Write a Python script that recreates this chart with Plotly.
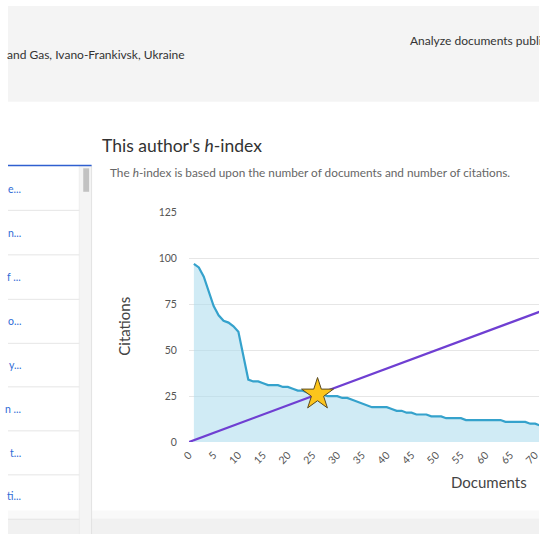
import plotly.graph_objects as go

# ---- data ----
documents = list(range(1, 75))
citations = [97, 95, 90, 82, 74, 69, 66, 65, 63, 60,
             47, 34, 33, 33, 32, 31, 31, 31, 30, 30,
             29, 28, 28, 27, 26, 26, 26, 25, 25, 25,
             24, 24, 23, 22, 21, 20, 19, 19, 19, 19,
             18, 17, 17, 16, 16, 15, 15, 15, 14, 14,
             14, 13, 13, 13, 13, 12, 12, 12, 12, 12,
             12, 12, 12, 11, 11, 11, 11, 11, 10, 10,
             9, 9, 8, 8]
h_line_x = [0, 80]
h_line_y = [0, 80]
h_index = 26
y_ticks = [0, 25, 50, 75, 100, 125]
x_ticks = list(range(0, 80, 5))
list_items = ["e...", "n...", "f ...", "o...", "y...", "n ...", "t...", "ti..."]

W = H = 540
def px(x):
    return x / W
def py(y):
    return 1 - y / H

fig = go.Figure()

fig.add_trace(go.Scatter(
    x=documents, y=citations, mode="lines", fill="tozeroy",
    line=dict(color="#35a2cc", width=2.2),
    fillcolor="rgba(170,218,237,0.55)", hoverinfo="skip", showlegend=False))

fig.add_trace(go.Scatter(
    x=h_line_x, y=h_line_y, mode="lines",
    line=dict(color="#6f3fd2", width=2.2), hoverinfo="skip", showlegend=False))

fig.add_trace(go.Scatter(
    x=[h_index], y=[h_index], mode="markers",
    marker=dict(symbol="star", size=24, color="#fcc51c",
                line=dict(color="#5a4a20", width=1)),
    hoverinfo="skip", showlegend=False))

shapes = []
# header band
shapes.append(dict(type="rect", xref="paper", yref="paper", x0=0, x1=1,
                   y0=py(98), y1=1, fillcolor="#f4f4f4", line_width=0, layer="below"))
# bottom band
shapes.append(dict(type="rect", xref="paper", yref="paper", x0=0, x1=1,
                   y0=0, y1=py(524), fillcolor="#f1f1f1", line_width=0, layer="below"))
shapes.append(dict(type="rect", xref="paper", yref="paper", x0=0, x1=1,
                   y0=py(524), y1=py(516), fillcolor="#f9f9f9", line_width=0, layer="below"))
# left list panel: scrollbar track
shapes.append(dict(type="rect", xref="paper", yref="paper", x0=px(73), x1=px(85),
                   y0=0, y1=py(163), fillcolor="#f4f4f4", line_width=0, layer="below"))
shapes.append(dict(type="rect", xref="paper", yref="paper", x0=px(76.5), x1=px(82.5),
                   y0=py(190), y1=py(166), fillcolor="#c2c2c2", line_width=0, layer="below"))
shapes.append(dict(type="line", xref="paper", yref="paper", x0=px(85), x1=px(85),
                   y0=0, y1=py(163), line=dict(color="#e2e2e2", width=1)))
shapes.append(dict(type="line", xref="paper", yref="paper", x0=px(72.5), x1=px(72.5),
                   y0=0, y1=py(163), line=dict(color="#ececec", width=1)))
shapes.append(dict(type="line", xref="paper", yref="paper", x0=0, x1=px(85),
                   y0=py(163), y1=py(163), line=dict(color="#2f5fd0", width=1.5)))
for yy in [209, 254.5, 300, 345, 389.5, 434.5, 479.5, 525]:
    shapes.append(dict(type="line", xref="paper", yref="paper", x0=0, x1=px(72.5),
                       y0=py(yy), y1=py(yy), line=dict(color="#e6e6e6", width=1)))

annotations = []
font_family = "Lato, Open Sans, sans-serif"
annotations.append(dict(xref="paper", yref="paper", x=px(-3), y=py(50), xanchor="left",
                        yanchor="middle", showarrow=False,
                        text="and Gas, Ivano-Frankivsk, Ukraine",
                        font=dict(size=12, color="#333333", family=font_family)))
annotations.append(dict(xref="paper", yref="paper", x=px(407), y=py(35), xanchor="left",
                        yanchor="middle", showarrow=False,
                        text="Analyze documents published",
                        font=dict(size=12, color="#333333", family=font_family)))
annotations.append(dict(xref="paper", yref="paper", x=px(94), y=py(143), xanchor="left",
                        yanchor="middle", showarrow=False,
                        text="This author's <i>h</i>-index",
                        font=dict(size=17.5, color="#323232", family=font_family)))
annotations.append(dict(xref="paper", yref="paper", x=px(102), y=py(170), xanchor="left",
                        yanchor="middle", showarrow=False,
                        text="The <i>h</i>-index is based upon the number of documents and number of citations.",
                        font=dict(size=11.8, color="#666666", family=font_family)))
annotations.append(dict(xref="paper", yref="paper", x=px(118), y=py(328), xanchor="center",
                        yanchor="middle", showarrow=False, textangle=-90,
                        text="Citations",
                        font=dict(size=15, color="#444444", family=font_family)))
annotations.append(dict(xref="paper", yref="paper", x=px(489), y=py(487), xanchor="center",
                        yanchor="middle", showarrow=False,
                        text="Documents",
                        font=dict(size=15, color="#444444", family=font_family)))
item_y = [187, 232, 277, 322, 367, 412, 457, 501]
for t, yy in zip(list_items, item_y):
    annotations.append(dict(xref="paper", yref="paper", x=px(15), y=py(yy), xanchor="right",
                            yanchor="middle", showarrow=False, text=t,
                            font=dict(size=10.5, color="#2f6bd6", family=font_family)))

x_max = (W - 184) / 5.03
fig.update_layout(
    width=W, height=H, autosize=False,
    margin=dict(l=0, r=0, t=0, b=0),
    paper_bgcolor="white", plot_bgcolor="white",
    shapes=shapes, annotations=annotations,
    xaxis=dict(domain=[184 / W, 1], range=[0, x_max], tickvals=x_ticks,
               tickangle=-45, showgrid=False, zeroline=False, showline=False,
               ticks="", ticklabelstandoff=4, ticklabeloverflow="allow",
               tickfont=dict(size=10.5, color="#555555", family=font_family)),
    yaxis=dict(domain=[py(446), py(211)], range=[0, 125], tickvals=y_ticks,
               showgrid=True, gridcolor="#e6e6e6", gridwidth=1, zeroline=False,
               showline=False, ticks="", ticklabelstandoff=11,
               tickfont=dict(size=10.5, color="#555555", family=font_family)),
)

fig.write_html(
    "out.html",
    config={"displayModeBar": False},
    post_script="document.body.style.margin='0';",
)
